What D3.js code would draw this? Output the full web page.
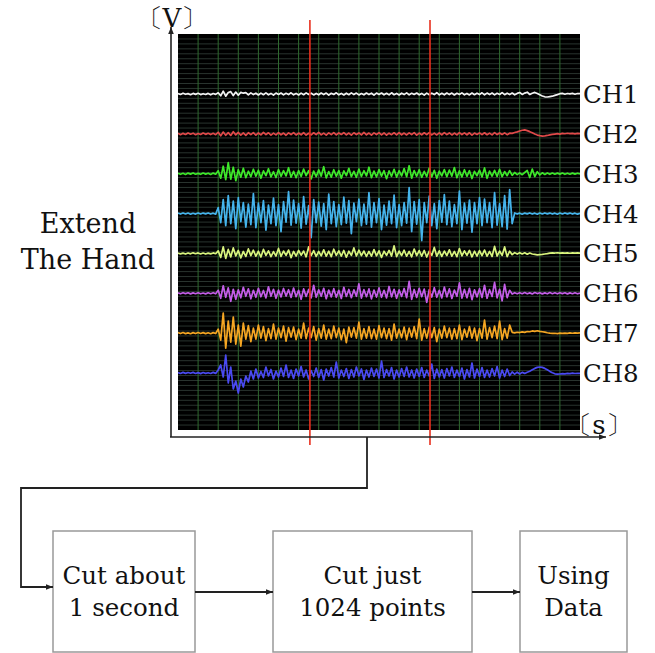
<!DOCTYPE html>
<html><head><meta charset="utf-8">
<script src="https://cdn.jsdelivr.net/npm/d3@7"></script>
<style>body{margin:0;background:#fff;overflow:hidden}</style>
</head><body><svg id="c" width="655" height="653"></svg>
<script>
// ---------- data ----------
const channels = ["CH1","CH2","CH3","CH4","CH5","CH6","CH7","CH8"];
const colors = ["#f2f2f2","#e04a4a","#3ee82a","#45b4ec","#d9f47e","#c45ee8","#f5a623","#4a4af2"];
const ch1 = [0.5,-0.5,0.8,-0.3,0.4,-0.7,0.6,-0.4,0.7,-0.6,0.3,-0.5,0.6,-0.8,0.5,-0.4,
1.2,-1.8,2.8,-2.2,1.5,2.4,-1.6,1.9,-1.2,1.6,0.8,1.4,-0.9,1.1,-0.6,
0.8,-1.0,0.9,-0.7,1.1,-0.8,0.6,-1.1,0.9,-0.5,1.0,-0.9,0.7,-0.6,1.2,
-0.8,0.6,-1.0,0.9,-0.7,1.1,-0.5,0.8,-0.9,0.6,-0.8,1.0,-0.6,0.9,-1.1,
0.7,-0.5,1.2,-0.8,0.6,-1.0,0.8,-0.7,1.1,-0.6,0.9,-0.9,0.5,-0.8,1.0,
-0.6,0.8,-1.1,0.9,-0.5,1.0,-0.8,0.7,-0.9,1.2,-0.7,0.6,-1.0,0.8,-0.6,
1.1,-0.9,0.7,-0.5,1.0,-0.8,0.6,-1.1,0.9,-0.7,0.8,-0.6,1.3,-0.9,0.7,
-0.8,1.0,-0.6,0.9,-1.0,0.7,-0.5,1.1,-0.8,0.6,-0.9,1.0,-0.7,0.8,-0.6,
1.2,-0.8,0.9,-0.6,1.0,-0.9,0.7,-0.5,1.4,-0.7,0.8,-0.6,1.0,-0.8,0.6,
1.5,-0.4,0.9,1.8,-0.5,0.8,1.6,0.4,-0.8,-2.0,-2.8,-3.0,-2.6,-2.2,-1.4,
-0.6,0.3,0.6,-0.2,0.5,0.1,0.6,-0.2,0.5,0.3];
const ch2 = [0.6,-0.8,0.5,-0.6,0.9,-0.4,0.7,-0.9,0.4,-0.6,0.8,-0.5,0.6,-0.7,0.5,-0.8,
1.6,-2.0,1.8,-1.4,1.2,-1.6,2.2,-1.0,1.4,-1.3,0.9,-1.5,1.1,-0.8,1.3,
-1.2,0.9,-1.0,1.4,-0.8,1.1,-1.3,0.7,-1.0,1.2,-0.9,0.8,-1.4,1.0,-0.7,
1.3,-1.1,0.8,-0.9,1.2,-1.2,0.6,-1.0,1.1,-0.8,1.4,-0.9,0.7,-1.2,1.0,
-0.8,1.2,-1.1,0.9,-0.6,1.3,-1.0,0.8,-1.3,1.1,-0.7,0.9,-1.1,1.4,-0.9,
0.8,-1.2,1.0,-0.7,1.2,-1.0,0.9,-1.3,0.7,-0.8,1.1,-1.0,1.3,-0.9,0.8,
-1.1,1.0,-0.7,1.2,-1.2,0.8,-0.9,1.1,-0.8,1.3,-1.0,0.7,-1.1,1.0,-0.9,
1.2,-0.8,0.9,-1.1,0.8,-1.0,1.3,-0.7,1.0,-0.9,1.1,-1.2,0.8,-0.6,1.0,
-0.8,1.1,-0.9,0.7,-1.0,1.2,-0.7,0.9,-0.6,1.0,-0.8,0.7,0.5,1.4,2.0,
2.8,3.6,4.0,3.2,2.2,1.0,-0.2,-1.2,-1.8,-2.2,-2.0,-1.6,-1.0,-0.6,-0.2,
0.2,-0.2,0.5,0.1,0.6,0.2,0.4,0.0,0.5,0.2];
const ch3 = [0.5,-0.6,0.4,-0.7,0.6,-0.4,0.8,-0.5,0.3,-0.6,0.7,-0.4,0.5,-0.8,0.6,-0.5,
3.0,-4.5,7.5,-6.0,11.0,-5.5,6.5,-7.0,4.0,-3.5,5.5,-4.0,2.5,-3.0,4.5,
-2.5,3.5,-4.5,2.8,-2.0,5.0,-3.2,2.0,-3.8,4.2,-2.6,3.0,-2.2,6.0,-3.5,
2.4,-4.0,3.2,-2.8,4.6,-2.0,3.0,-5.2,2.6,-3.0,3.8,-2.4,7.0,-4.2,2.2,
-3.4,4.0,-2.6,3.2,-4.4,2.8,-2.0,5.4,-3.0,2.4,-3.6,4.6,-2.8,3.0,-2.2,
6.5,-4.0,2.6,-3.2,4.2,-2.4,3.0,-5.0,2.8,-2.6,4.4,-3.4,3.0,-2.2,5.2,
-3.0,8.0,-4.4,3.2,-2.6,4.0,-3.6,2.4,-2.8,5.6,-3.2,3.4,-4.6,2.6,-2.2,
4.2,-3.0,3.6,-2.4,6.2,-4.0,2.8,-3.2,4.0,-2.6,3.0,-4.8,2.4,-2.0,3.6,
-3.2,5.8,-4.6,2.6,-2.4,3.4,-2.8,4.4,-3.0,2.2,-2.0,3.0,-1.6,1.2,-0.9,
0.8,-1.0,1.2,3.2,-3.8,4.6,-2.8,2.0,-1.2,0.9,-0.7,0.8,-0.6,0.7,-0.5,
0.6,-0.4,0.7,-0.6,0.5,-0.5,0.6,-0.4,0.5,-0.3];
const ch4 = [0.4,-0.5,0.6,-0.4,0.5,-0.6,0.3,-0.5,0.6,-0.4,0.5,-0.3,0.6,-0.5,0.4,-0.6,
6.0,-9.0,14.0,-12.0,18.0,-10.0,12.5,-15.0,16.0,-8.0,11.0,-13.5,9.5,-11.0,20.0,
-14.0,10.5,-9.0,13.0,-16.5,8.5,-10.0,15.5,-12.0,9.0,-18.0,12.0,-8.5,22.0,-11.5,
13.5,-9.5,10.0,-14.5,17.0,-10.5,8.0,-24.0,14.0,-9.0,11.5,-12.5,10.0,-16.0,19.5,
-10.0,12.0,-13.0,9.0,-11.0,16.5,-9.5,13.0,-20.0,10.5,-8.0,14.5,-12.0,9.5,-10.5,
21.0,-13.5,11.0,-9.0,15.0,-16.0,8.5,-11.5,12.5,-10.0,18.5,-14.0,9.0,-12.0,11.0,
-9.5,26.0,-18.0,12.0,-10.5,14.0,-27.0,11.0,-9.0,17.5,-12.0,10.0,-15.0,13.0,-8.5,
19.0,-11.0,12.5,-13.0,9.0,-10.0,22.5,-16.0,10.5,-9.5,13.5,-18.5,11.0,-10.0,16.0,
-12.0,14.5,-9.0,11.0,-14.0,21.0,-11.5,10.0,-13.0,18.0,-15.5,24.0,-10.0,0.6,-0.5,
0.4,-0.6,0.5,-0.3,0.6,-0.5,0.4,-0.6,0.5,-0.4,0.6,-0.3,0.5,-0.5,0.4,
-0.6,0.5,-0.4,0.6,-0.3,0.5,-0.5,0.4,-0.6,0.3];
const ch5 = [0.4,-0.5,0.3,-0.6,0.5,-0.4,0.6,-0.3,0.5,-0.5,0.4,-0.6,0.3,-0.4,0.5,-0.3,
2.5,-4.0,6.5,-5.0,4.0,-3.5,5.5,-2.5,3.0,-4.5,2.0,-3.0,4.5,-2.2,3.2,
-2.8,2.2,-3.6,4.0,-2.0,2.6,-3.2,1.8,-2.6,5.0,-3.0,2.4,-2.0,3.4,-4.2,
2.0,-2.6,3.0,-1.8,2.4,-3.4,6.5,-2.2,2.8,-3.0,2.0,-2.4,3.6,-2.8,2.2,
-3.2,4.2,-2.0,2.6,-2.6,3.0,-3.8,2.2,-2.0,5.5,-2.6,3.2,-2.2,2.4,-3.0,
2.0,-2.8,3.8,-2.4,2.6,-4.0,2.2,-2.0,3.0,-2.6,7.5,-3.2,2.4,-2.2,3.2,
-2.8,2.0,-3.4,4.4,-2.2,2.8,-2.6,3.0,-3.6,2.2,-2.0,6.0,-2.8,2.6,-3.0,
2.4,-2.2,3.6,-2.8,2.0,-3.2,4.8,-2.4,2.6,-2.0,3.0,-3.4,2.2,-2.6,2.8,
-2.2,3.4,-2.8,2.0,-3.0,7.0,-2.6,2.4,-2.0,6.5,-3.2,2.2,-1.2,0.8,-0.6,
0.7,-0.5,0.6,-0.8,0.4,-0.6,-1.0,-1.4,-1.2,-1.0,-0.6,-0.2,0.3,0.6,0.4,
0.7,0.3,0.6,0.4,0.5,0.2,0.6,0.3,0.5,0.4];
const ch6 = [0.4,-0.5,0.6,-0.3,0.5,-0.6,0.4,-0.4,0.6,-0.5,0.3,-0.6,0.5,-0.4,0.6,-0.5,
3.0,-5.0,7.5,-4.0,5.5,-8.0,4.0,-6.0,3.5,-4.5,6.0,-3.0,4.5,-5.5,3.0,
-4.0,5.0,-3.5,2.8,-4.6,6.5,-3.0,4.0,-5.0,3.2,-3.6,4.8,-2.8,3.6,-4.2,
5.2,-3.4,3.0,-6.0,4.4,-3.2,3.8,-4.6,8.0,-4.0,3.4,-3.0,5.0,-5.4,3.2,
-3.6,4.6,-4.0,3.0,-5.2,6.0,-3.2,3.8,-4.4,3.4,-3.0,9.5,-4.8,3.6,-3.4,
4.4,-5.6,3.2,-3.8,5.4,-4.0,3.0,-4.6,6.8,-3.6,4.0,-5.0,3.4,-3.2,4.8,
-4.4,12.0,-6.0,3.8,-4.2,5.0,-3.4,4.2,-9.0,3.6,-3.8,5.6,-4.0,3.0,-4.6,
6.2,-3.6,4.4,-5.2,3.2,-3.0,10.5,-4.8,3.8,-4.4,5.0,-6.4,3.4,-3.6,4.6,
-4.2,8.0,-5.0,3.6,-3.2,11.0,-4.6,4.0,-7.5,9.0,-4.4,3.0,-0.8,0.6,-0.5,
0.6,-0.4,0.7,-0.5,0.4,-0.6,0.8,-0.3,0.5,-0.6,0.4,-0.5,0.7,-0.4,0.5,
-0.5,0.6,-0.3,0.5,-0.6,0.4,-0.4,0.6,-0.5,0.3];
const ch7 = [0.5,-0.4,0.6,-0.5,0.3,-0.6,0.5,-0.4,0.6,-0.3,0.5,-0.5,0.4,-0.6,0.5,-0.4,
4.0,-7.0,20.0,-15.0,12.0,-9.0,16.0,-11.0,8.0,-13.0,10.0,-6.0,7.5,-8.5,5.0,
-6.0,8.0,-5.0,6.5,-7.5,4.5,-5.5,9.0,-6.0,5.0,-4.5,7.0,-8.0,5.5,-4.0,
6.0,-6.5,4.0,-5.0,10.0,-5.5,5.0,-4.5,6.5,-7.0,4.5,-5.0,8.0,-6.0,4.0,
-5.5,7.0,-4.5,5.0,-6.5,4.0,-9.5,6.0,-4.0,5.5,-5.0,11.0,-6.0,4.5,-5.0,
6.5,-5.5,4.0,-6.0,7.5,-4.5,5.0,-5.5,4.5,-7.0,9.0,-5.0,4.0,-4.5,6.0,
-6.5,5.0,-4.0,6.5,-5.5,14.0,-7.0,4.5,-5.0,6.0,-4.5,5.5,-8.5,4.0,-5.0,
7.0,-4.5,5.0,-6.0,4.5,-5.5,8.0,-6.5,4.0,-4.0,6.5,-5.0,5.0,-7.5,4.5,
-5.0,13.0,-6.0,5.5,-4.5,7.0,-5.5,12.0,-6.5,4.5,-5.0,8.0,0.8,0.2,0.9,
0.6,1.2,0.8,1.6,1.4,2.2,1.8,2.4,1.8,1.4,1.0,0.4,0.0,-0.3,-0.1,
-0.4,0.0,-0.3,0.1,-0.2,0.2,-0.1,0.3,0.0,0.2];
const ch8 = [0.4,-0.5,0.6,-0.4,0.5,-0.3,0.6,-0.5,0.4,-0.6,0.5,-0.4,0.3,-0.5,0.6,-0.4,
3.0,8.0,-4.0,18.0,-10.0,6.0,-16.0,-8.0,-20.0,-6.0,-14.0,-3.0,-9.0,2.0,-6.0,
4.0,-5.0,1.5,-4.5,6.0,-3.0,3.5,-6.0,2.0,-4.0,5.0,-3.5,8.0,-4.5,3.0,
-5.5,4.0,-3.0,6.5,-4.0,3.0,-6.0,2.5,-3.5,5.0,-4.5,3.5,-7.0,4.0,-3.0,
5.5,-4.0,11.0,-5.0,3.0,-3.5,4.5,-5.5,3.5,-4.0,6.0,-3.0,4.0,-6.5,3.0,
-4.0,5.0,-3.5,4.0,-5.0,12.0,-4.5,3.5,-3.0,5.5,-6.0,3.0,-4.0,4.5,-3.5,
6.0,-4.0,3.0,-5.0,4.0,-3.5,5.5,-4.5,3.0,-3.0,9.0,-5.5,4.0,-4.0,3.5,
-5.0,4.5,-3.0,6.0,-4.5,3.0,-3.5,5.0,-6.0,3.5,-4.0,10.0,-5.0,4.0,-3.5,
5.5,-4.5,3.0,-4.0,4.5,-3.0,6.5,-5.0,3.0,-3.5,4.0,-2.5,1.0,-1.2,0.8,
-1.0,0.6,-0.4,0.8,1.8,3.2,4.6,5.6,6.0,5.6,4.6,3.2,1.6,0.2,-0.8,
-1.2,-1.0,-0.6,-0.8,-0.4,-0.6,-0.2,-0.5,-0.3,-0.4];
const series = [ch1,ch2,ch3,ch4,ch5,ch6,ch7,ch8];
const cursorSamples = [52.5, 100.3];      // red time cursors (sample index)
const yUnit = "〔V〕";
const xUnit = "〔s〕";
const sideLabel = ["Extend","The Hand"];
const steps = [["Cut about","1 second"],["Cut just","1024 points"],["Using","Data"]];

// ---------- layout ----------
const svg = d3.select("#c");
const plot = {x0:178, x1:580, y0:34, y1:430};
const nSamples = ch1.length;
const x = d3.scaleLinear().domain([0, nSamples-1]).range([plot.x0, plot.x1]);
const chY = d3.scalePoint().domain(channels).range([94, 373]);
const amp = d3.scaleLinear().domain([-20, 20]).range([20, -20]);
const hGrid = d3.scaleLinear().domain([0, 80]).range([plot.y0, plot.y1]);
const serif = "'DejaVu Serif', 'Liberation Serif', serif";

const defs = svg.append("defs");
defs.append("marker").attr("id","arr").attr("viewBox","0 0 10 10").attr("refX",10).attr("refY",5)
  .attr("markerWidth",7).attr("markerHeight",7).attr("markerUnits","userSpaceOnUse").attr("orient","auto")
  .append("path").attr("d","M0,1 L10,5 L0,9 Z").attr("fill","#222");
defs.append("clipPath").attr("id","clip").append("rect")
  .attr("x",plot.x0).attr("y",plot.y0).attr("width",plot.x1-plot.x0).attr("height",plot.y1-plot.y0);

// black screen
svg.append("rect").attr("x",plot.x0).attr("y",plot.y0).attr("width",plot.x1-plot.x0)
  .attr("height",plot.y1-plot.y0).attr("fill","#000");
// horizontal grid
svg.append("g").selectAll("line").data(d3.range(1,80)).join("line")
  .attr("x1",plot.x0).attr("x2",plot.x1).attr("y1",d=>hGrid(d)).attr("y2",d=>hGrid(d))
  .attr("stroke","#34403a").attr("stroke-width",0.8);
// vertical grid
svg.append("g").selectAll("line").data(d3.range(8, nSamples-1, 8)).join("line")
  .attr("x1",d=>x(d)).attr("x2",d=>x(d)).attr("y1",plot.y0).attr("y2",plot.y1)
  .attr("stroke","#2f6a2f").attr("stroke-width",1);

// signals
const g = svg.append("g").attr("clip-path","url(#clip)");
channels.forEach((ch,k)=>{
  const line = d3.line().x((d,i)=>x(i)).y(d=>chY(ch)+amp(d));
  g.append("path").datum(series[k]).attr("d",line).attr("fill","none")
    .attr("stroke",colors[k]).attr("stroke-width",1.7).attr("stroke-linejoin","round");
});

// channel labels
svg.append("g").selectAll("text").data(channels).join("text")
  .attr("x",plot.x1+3).attr("y",d=>chY(d)+9).text(d=>d)
  .attr("font-family",serif).attr("font-size",24.5).attr("fill","#111");

// red cursors
svg.append("g").selectAll("line").data(cursorSamples).join("line")
  .attr("x1",d=>x(d)).attr("x2",d=>x(d)).attr("y1",20).attr("y2",445)
  .attr("stroke","#e8301e").attr("stroke-width",1.6);

// axes
svg.append("line").attr("x1",171).attr("y1",437).attr("x2",171).attr("y2",27)
  .attr("stroke","#222").attr("stroke-width",1.6).attr("marker-end","url(#arr)");
svg.append("line").attr("x1",170).attr("y1",437).attr("x2",606).attr("y2",437)
  .attr("stroke","#222").attr("stroke-width",1.6).attr("marker-end","url(#arr)");
svg.append("text").attr("x",172).attr("y",27).attr("text-anchor","middle")
  .attr("font-family",serif).attr("font-size",26).attr("fill","#111").text(yUnit);
svg.append("text").attr("x",599).attr("y",434).attr("text-anchor","middle")
  .attr("font-family",serif).attr("font-size",26).attr("fill","#111").text(xUnit);

// side label
svg.append("g").selectAll("text").data(sideLabel).join("text")
  .attr("x",88).attr("y",(d,i)=>233+i*36).attr("text-anchor","middle")
  .attr("font-family",serif).attr("font-size",27).attr("fill","#111").text(d=>d);

// flow boxes
const boxes = [{x:53,w:142},{x:273,w:199},{x:520,w:107}];
const by = 531, bh = 121;
boxes.forEach((b,i)=>{
  svg.append("rect").attr("x",b.x).attr("y",by).attr("width",b.w).attr("height",bh)
    .attr("fill","#fff").attr("stroke","#999").attr("stroke-width",1.5);
  svg.append("g").selectAll("text").data(steps[i]).join("text")
    .attr("x",b.x+b.w/2).attr("y",(d,j)=>584+j*32).attr("text-anchor","middle")
    .attr("font-family",serif).attr("font-size",24.5).attr("fill","#111").text(d=>d);
});
const conn = (pts)=>svg.append("path").attr("d",d3.line()(pts)).attr("fill","none")
  .attr("stroke","#222").attr("stroke-width",1.8).attr("marker-end","url(#arr)");
conn([[195,592],[273,592]]);
conn([[472,592],[520,592]]);
conn([[367,437],[367,488],[21,488],[21,587],[53,587]]);
</script></body></html>
